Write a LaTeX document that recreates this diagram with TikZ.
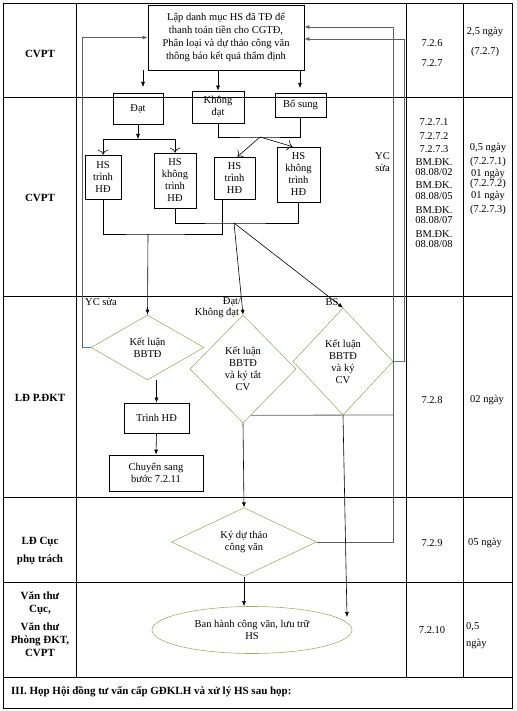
\documentclass[tikz,border=0pt]{standalone}
\usepackage{fontspec}
\setmainfont{Liberation Serif}
\usetikzlibrary{shapes.geometric,arrows.meta,calc}
\definecolor{dgreen}{RGB}{150,180,105}
\definecolor{lblue}{RGB}{79,129,189}
\definecolor{fb}{RGB}{95,95,95}
\begin{document}
\begin{tikzpicture}[x=1pt,y=-1pt,
  font=\fontsize{10.5}{12}\selectfont,
  >={Latex[length=5pt,width=4pt]},
  tbl/.style={line width=0.8pt},
  box/.style={draw,line width=0.7pt,inner sep=1pt,align=center},
  dia/.style={diamond,draw=dgreen,line width=0.6pt,inner sep=0pt,align=center},
  role/.style={font=\fontsize{11}{13}\selectfont\bfseries,align=center},
  cell/.style={font=\fontsize{10.5}{12}\selectfont,inner sep=0pt},
  conn/.style={line width=0.6pt},
  fbl/.style={draw=fb,line width=0.8pt},
  blu/.style={draw=lblue,line width=0.6pt}]
\useasboundingbox (0,0) rectangle (516,711);
% table
\draw[tbl] (3,3) rectangle (512,708);
\foreach \y in {97,296,497,582,677} \draw[tbl] (3,\y) -- (512,\y);
\foreach \x in {76,406,463} \draw[tbl] (\x,3) -- (\x,677);
% roles
\node[role] (r1) at (40,54) {CVPT};
\node[role] (r2) at (40,198) {CVPT};
\node[role] (r3) at (40,398) {LĐ P.ĐKT};
\node[role] (r4) at (40,551) {LĐ Cục\\[5pt]phụ trách};
\node[role] (r5) at (40,624) {Văn thư\\Cục,\\[5pt]Văn thư\\Phòng ĐKT,\\CVPT};
% code / time column
\node[cell] (k1a) at (432,43) {7.2.6};
\node[cell] (k1b) at (432,63) {7.2.7};
\node[cell] (t1a) at (485,32) {2,5 ngày};
\node[cell] (t1b) at (485,52) {(7.2.7)};
\foreach \yy/\txt [count=\i] in {122/7.2.7.1,136/7.2.7.2,149/7.2.7.3,162/{BM.ĐK.},172/{08.08/02},185/{BM.ĐK.},196/{08.08/05},210/{BM.ĐK.},220/{08.08/07},234/{BM.ĐK.},244/{08.08/08}}
  \node[cell] (k2\i) at (434,\yy) {\txt};
\foreach \yy/\txt [count=\i] in {148/{0,5 ngày},162/{(7.2.7.1)},174/{01 ngày},184/{(7.2.7.2)},196/{01 ngày},210/{(7.2.7.3)}}
  \node[cell] (t2\i) at (488,\yy) {\txt};
\node[cell] (k3) at (432,400) {7.2.8};
\node[cell] (t3) at (487,400) {02 ngày};
\node[cell] (k4) at (432,543) {7.2.9};
\node[cell] (t4) at (485,543) {05 ngày};
\node[cell] (k5) at (432,630) {7.2.10};
\node[cell,anchor=west] (t5a) at (466,627) {0,5};
\node[cell,anchor=west] (t5b) at (466,644) {ngày};
\node[cell,anchor=west,font=\fontsize{11}{13}\selectfont\bfseries] (foot) at (11,692) {III. Họp Hội đồng tư vấn cấp GĐKLH và xử lý HS sau họp:};
% flow nodes
\node[box,minimum width=156pt,minimum height=65pt,font=\fontsize{10.5}{13.2}\selectfont] (top) at (226,37.5)
  {Lập danh mục HS đã TĐ để\\thanh toán tiền cho CGTĐ,\\Phân loại và dự thảo công văn\\thông báo kết quả thẩm định};
\node[box,minimum width=50pt,minimum height=31pt] (dat) at (138,108.5) {Đạt};
\node[box,minimum width=52pt,minimum height=32pt] (kd) at (218,107) {Không\\đạt};
\node[box,minimum width=51pt,minimum height=24pt] (bs) at (300.5,105) {Bổ sung};
\node[box,minimum width=36pt,minimum height=44pt] (hs1) at (103,177) {HS\\trình\\HĐ};
\node[box,minimum width=42pt,minimum height=55pt] (hsk1) at (175,180.5) {HS\\không\\trình\\HĐ};
\node[box,minimum width=41pt,minimum height=42pt] (hs2) at (234.5,178) {HS\\trình\\HĐ};
\node[box,minimum width=43pt,minimum height=55pt] (hsk2) at (298.5,174.5) {HS\\không\\trình\\HĐ};
\node[dia,minimum width=113pt,minimum height=65pt] (d1) at (147.5,347.5) {Kết luận\\BBTĐ};
\node[dia,minimum width=106pt,minimum height=108pt] (d2) at (243,369) {Kết luận\\BBTĐ\\và ký tắt\\CV};
\node[dia,minimum width=100pt,minimum height=107pt] (d3) at (343,361.5) {Kết luận\\BBTĐ\\và ký\\CV};
\node[dia,minimum width=145pt,minimum height=66pt] (d4) at (244,542) {Ký dự thảo\\công văn};
\node[ellipse,draw=dgreen,line width=0.6pt,minimum width=200pt,minimum height=47pt,inner sep=0pt,align=center] (ell) at (252,630) {Ban hành công văn, lưu trữ\\HS};
\node[box,minimum width=65pt,minimum height=30pt] (trinh) at (156.5,418) {Trình HĐ};
\node[box,minimum width=94pt,minimum height=36pt] (chuyen) at (156,473) {Chuyển sang\\bước 7.2.11};
% labels
\node[inner sep=0pt] (l1) at (101,302) {YC sửa};
\node[inner sep=0pt] (l2) at (232,302) {Đạt/};
\node[inner sep=0pt] (l3) at (217,313) {Không đạt};
\node[inner sep=0pt] (l4) at (332,302) {BS};
\node[inner sep=0pt,align=right,anchor=east] (l5) at (390,162) {YC\\sửa};
% connectors: top box to result boxes
\coordinate (a1) at (143,87);
\coordinate (a3) at (300,88);
\draw[conn,->] (top.south west -| a1) -- (a1);
\draw[conn,->] (top.south -| kd.north) -- (kd.north);
\draw[conn,->] (top.south -| a3) -- (a3);
% Dat split
\coordinate (sp1) at (138,139);
\draw[conn,->] (dat.south) -- (sp1);
\draw[conn,-{To[length=5pt]}] (sp1) -| (hs1.north);
\draw[conn,-{To[length=5pt]}] (sp1) -| (hsk1.north);
% Khong dat / Bo sung join
\coordinate (j1) at (260,137);
\draw[conn] (kd.south) |- (j1) -| (bs.south);
\draw[conn,-{To[length=5pt]}] (j1) -- ([xshift=3pt]hs2.north);
\draw[conn,-{To[length=5pt]}] (j1) -- ([xshift=-6pt]hsk2.north);
% bottom joins
\coordinate (j2) at (148,234);
\draw[conn] (hs1.south) |- (j2) -| ([xshift=-12.5pt]hs2.south);
\draw[conn,->] (j2) -- (d1.north);
\coordinate (j3) at (234,223);
\draw[conn] (hsk1.south) |- (j3) -| (hsk2.south);
\draw[conn,->] (j3) -- (d2.north);
\draw[conn,->] (j3) -- (d3.north);
% feedback YC sua (left)
\coordinate (c1) at (82,347.5);
\draw[blu] (d1.west) -- (c1);
\draw[fbl,->] (c1) |- (top.west);
% feedback from d3 (right, B)
\coordinate (c2) at (404,361.5);
\coordinate (c2t) at (404,39);
\draw[blu] (d3.east) -- (c2);
\draw[fbl,->] (c2) -- (c2t) -- (c2t -| top.east);
% feedback from d4 (right, A)
\coordinate (c3) at (393,542);
\coordinate (c3t) at (393,27);
\draw[fbl,->] (d4.east) -- (c3) -- (c3t) -- (c3t -| top.east);
% horizontal line under diamonds
\coordinate (c4) at (393,415);
\draw[fbl] ($(d2.south)!0.148!(d2.east)$) -- (c4);
% lower flow
\draw[conn,->] (d2.south) -- (d4.north);
\coordinate (c5) at (347,617);
\draw[conn,->] (d3.south) -- (c5);
\draw[conn,->] (d4.south) -- (d4.south |- ell.north);
\draw[conn,->] (trinh.north |- d1.south) -- (trinh.north);
\draw[conn,->] (trinh.south) -- (chuyen.north);
\end{tikzpicture}
\end{document}
